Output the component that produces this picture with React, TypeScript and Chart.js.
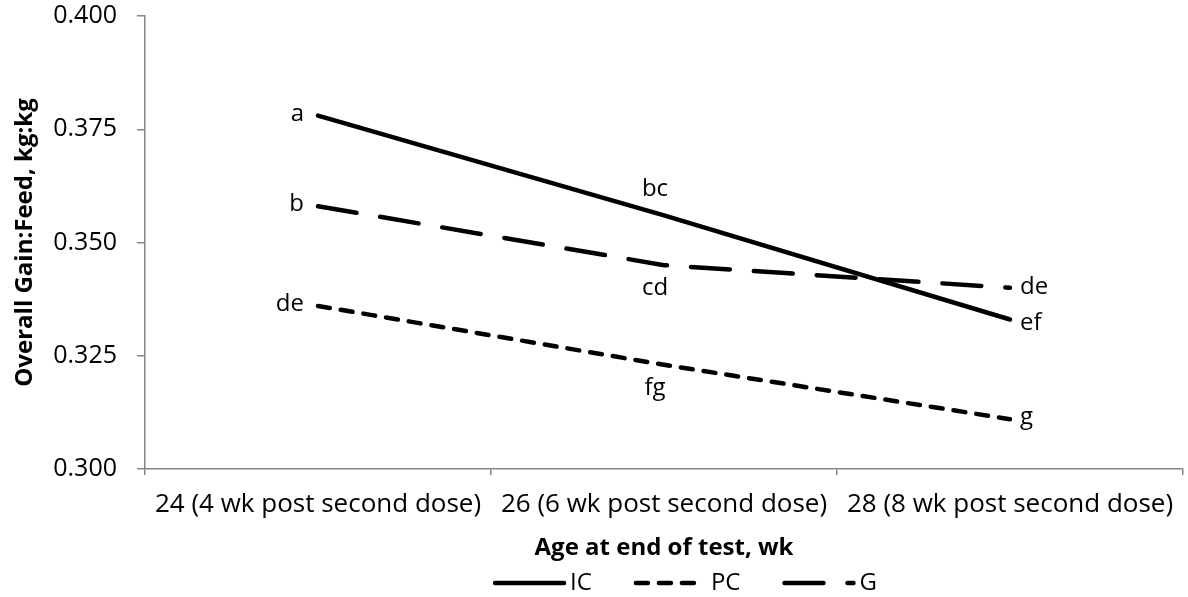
import React, { useEffect, useRef } from "react";
import { Chart, registerables } from "chart.js";

Chart.register(...registerables);

const categories = [
  "24 (4 wk post second dose)",
  "26 (6 wk post second dose)",
  "28 (8 wk post second dose)",
];
const seriesNames = ["IC", "PC", "G"];
const icValues = [0.378, 0.356, 0.333];
const pcValues = [0.336, 0.323, 0.311];
const gValues = [0.358, 0.345, 0.340];
const icLetters = ["a", "bc", "ef"];
const pcLetters = ["de", "fg", "g"];
const gLetters = ["b", "cd", "de"];
const yTicks = [0.3, 0.325, 0.35, 0.375, 0.4];

const FONT = "'Open Sans', 'DejaVu Sans', sans-serif";
const GRAY = "#868686";

const letterPlugin = {
  id: "letters",
  afterDatasetsDraw(chart: any) {
    const ctx = chart.ctx;
    ctx.save();
    ctx.font = `24px ${FONT}`;
    ctx.fillStyle = "#000";
    ctx.textBaseline = "middle";
    chart.data.datasets.forEach((ds: any, di: number) => {
      const meta = chart.getDatasetMeta(di);
      const letters: string[] = ds.letters;
      meta.data.forEach((pt: any, i: number) => {
        const x = pt.x;
        const y = pt.y;
        if (i === 0) {
          ctx.textAlign = "right";
          ctx.fillText(letters[i], x - 14, y - 2);
        } else if (i === letters.length - 1) {
          ctx.textAlign = "left";
          ctx.fillText(letters[i], x + 10, y + ds.endDy);
        } else {
          ctx.textAlign = "center";
          ctx.fillText(letters[i], x - 9, y + ds.midDy);
        }
      });
    });
    ctx.restore();
  },
};

const legendPlugin = {
  id: "customLegend",
  afterDraw(chart: any) {
    const ctx = chart.ctx;
    ctx.save();
    ctx.font = `24px ${FONT}`;
    const sample = 69;
    const gapText = 6;
    const spacing = 44;
    const items = chart.data.datasets.map((ds: any) => ({
      ds,
      tw: ctx.measureText(ds.label).width,
    }));
    const total =
      items.reduce((s: number, it: any) => s + sample + gapText + it.tw, 0) +
      spacing * (items.length - 1);
    const ca = chart.chartArea;
    let x = (ca.left + ca.right) / 2 + 22 - total / 2;
    const y = 583;
    items.forEach((it: any) => {
      const ds = it.ds;
      ctx.beginPath();
      ctx.lineWidth = ds.borderWidth;
      ctx.strokeStyle = ds.borderColor;
      ctx.lineCap = ds.borderCapStyle;
      ctx.setLineDash(ds.borderDash || []);
      ctx.moveTo(x, y);
      ctx.lineTo(x + sample, y);
      ctx.stroke();
      ctx.setLineDash([]);
      ctx.fillStyle = "#000";
      ctx.textAlign = "left";
      ctx.textBaseline = "middle";
      ctx.fillText(ds.label, x + sample + gapText, y);
      x += sample + gapText + it.tw + spacing;
    });
    ctx.restore();
  },
};

export default function App() {
  const ref = useRef<HTMLCanvasElement | null>(null);
  useEffect(() => {
    document.body.style.margin = "0";
    const canvas = ref.current;
    if (!canvas) return;
    const chart = new Chart(canvas, {
      type: "line",
      data: {
        labels: categories,
        datasets: [
          {
            label: seriesNames[0],
            data: icValues,
            letters: icLetters,
            midDy: -26,
            endDy: 4,
            borderColor: "#000",
            borderWidth: 4.5,
            borderCapStyle: "round",
            borderDash: [],
            pointRadius: 0,
            tension: 0,
          } as any,
          {
            label: seriesNames[1],
            data: pcValues,
            letters: pcLetters,
            midDy: 23,
            endDy: -2,
            borderColor: "#000",
            borderWidth: 4.5,
            borderCapStyle: "round",
            borderDash: [12, 11],
            pointRadius: 0,
            tension: 0,
          } as any,
          {
            label: seriesNames[2],
            data: gValues,
            letters: gLetters,
            midDy: 23,
            endDy: -1,
            borderColor: "#000",
            borderWidth: 4.5,
            borderCapStyle: "round",
            borderDash: [39, 24],
            pointRadius: 0,
            tension: 0,
          } as any,
        ],
      },
      options: {
        responsive: false,
        animation: false,
        layout: { autoPadding: false, padding: { top: 16, right: 5, left: 0, bottom: 0 } },
        plugins: {
          legend: { display: false },
          tooltip: { enabled: false },
        },
        scales: {
          x: {
            type: "category",
            offset: true,
            grid: {
              offset: true,
              drawOnChartArea: false,
              drawTicks: true,
              tickLength: 6,
              color: GRAY,
              lineWidth: 1.5,
            },
            border: { color: GRAY, width: 1.5 },
            ticks: {
              color: "#000",
              font: { family: FONT, size: 26 },
              padding: 14,
              maxRotation: 0,
              autoSkip: false,
            },
            title: {
              display: true,
              text: "Age at end of test, wk",
              color: "#000",
              font: { family: FONT, size: 24, weight: "bold" },
              padding: { top: 0, bottom: 34 },
            },
            afterFit: (s: any) => {
              s.height = 128;
              s.paddingLeft = 0;
              s.paddingRight = 0;
            },
          },
          y: {
            min: 0.3,
            max: 0.4,
            afterBuildTicks: (s: any) => {
              s.ticks = yTicks.map((v) => ({ value: v }));
            },
            grid: {
              drawOnChartArea: false,
              drawTicks: true,
              tickLength: 8,
              color: GRAY,
              lineWidth: 1.5,
            },
            border: { color: GRAY, width: 1.5 },
            ticks: {
              color: "#000",
              font: { family: FONT, size: 25 },
              padding: 20,
              callback: (v: any) => Number(v).toFixed(3),
            },
            title: {
              display: true,
              text: "Overall Gain:Feed, kg:kg",
              color: "#000",
              font: { family: FONT, size: 24, weight: "bold" },
              padding: { top: 11, bottom: 0 },
            },
            afterFit: (s: any) => {
              s.width = 145;
              s.paddingTop = 0;
              s.paddingBottom = 0;
            },
          },
        },
      },
      plugins: [letterPlugin, legendPlugin],
    });
    return () => chart.destroy();
  }, []);
  return (
    <div style={{ width: 1188, height: 597 }}>
      <canvas ref={ref} width={1188} height={597} style={{ display: "block" }} />
    </div>
  );
}
